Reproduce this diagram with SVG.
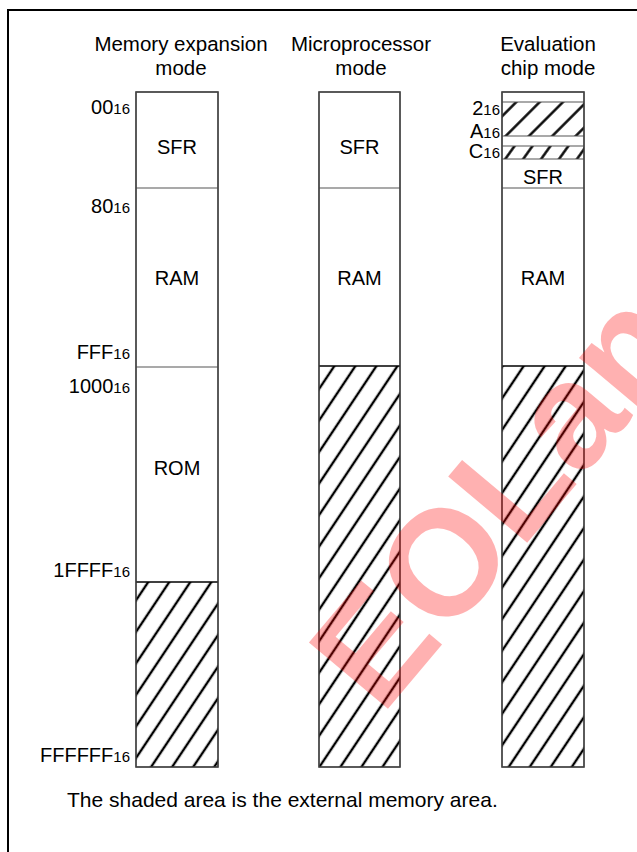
<svg xmlns="http://www.w3.org/2000/svg" width="637" height="852" viewBox="0 0 637 852">
<style>
text{font-family:"Liberation Sans",Arial,sans-serif;fill:#000}
.h{font-size:20.5px;text-anchor:middle}
.lbl{font-size:20px;text-anchor:end}
.sub{font-size:15px}
.in{font-size:20px;text-anchor:middle}
.box{fill:#fff;stroke:#444;stroke-width:1.3}
.div{stroke:#555;stroke-width:1.2}
.hl{stroke:#000;stroke-width:1.5;fill:none}
</style>
<defs>
<pattern id="hatch" patternUnits="userSpaceOnUse" width="17.5" height="20" patternTransform="rotate(33.7)">
<line x1="8.75" y1="-2" x2="8.75" y2="22" stroke="#000" stroke-width="2.4"/>
</pattern>
<pattern id="hatchA" patternUnits="userSpaceOnUse" width="16.5" height="20" patternTransform="rotate(45)">
<line x1="8.25" y1="-2" x2="8.25" y2="22" stroke="#000" stroke-width="2.4"/>
</pattern>
<pattern id="hatchB" patternUnits="userSpaceOnUse" width="14.6" height="20" patternTransform="rotate(35.5)">
<line x1="7.3" y1="-2" x2="7.3" y2="22" stroke="#000" stroke-width="2.4"/>
</pattern>
</defs>
<rect x="0" y="0" width="637" height="852" fill="#fff"/>
<rect id="frame" x="8" y="10" width="700" height="900" fill="none" stroke="#000" stroke-width="2"/>

<g id="headers">
<text class="h" x="181" y="51">Memory expansion</text>
<text class="h" x="181" y="75">mode</text>
<text class="h" x="361" y="51">Microprocessor</text>
<text class="h" x="361" y="75">mode</text>
<text class="h" x="548" y="51">Evaluation</text>
<text class="h" x="548" y="75">chip mode</text>
</g>

<g id="col1">
<rect class="box" x="136" y="92" width="82" height="675"/>
<rect x="136" y="582" width="82" height="185" fill="url(#hatch)"/>
<line class="div" x1="136" y1="188" x2="218" y2="188"/>
<line class="div" x1="136" y1="367" x2="218" y2="367"/>
<line class="hl" x1="136" y1="582" x2="218" y2="582"/>
<rect x="136" y="92" width="82" height="675" fill="none" stroke="#444" stroke-width="1.3"/>
<text class="in" x="177" y="154">SFR</text>
<text class="in" x="177" y="285">RAM</text>
<text class="in" x="177" y="475">ROM</text>
</g>

<g id="col1-labels">
<text class="lbl" x="130" y="114">00<tspan class="sub">16</tspan></text>
<text class="lbl" x="130" y="213">80<tspan class="sub">16</tspan></text>
<text class="lbl" x="130" y="359">FFF<tspan class="sub">16</tspan></text>
<text class="lbl" x="130" y="393">1000<tspan class="sub">16</tspan></text>
<text class="lbl" x="130" y="577">1FFFF<tspan class="sub">16</tspan></text>
<text class="lbl" x="130" y="762">FFFFFF<tspan class="sub">16</tspan></text>
</g>

<g id="col2">
<rect class="box" x="319" y="92" width="81" height="675"/>
<rect x="319" y="366" width="81" height="401" fill="url(#hatch)"/>
<line class="div" x1="319" y1="188" x2="400" y2="188"/>
<line class="hl" x1="319" y1="366" x2="400" y2="366"/>
<rect x="319" y="92" width="81" height="675" fill="none" stroke="#444" stroke-width="1.3"/>
<text class="in" x="359.5" y="154">SFR</text>
<text class="in" x="359.5" y="285">RAM</text>
</g>

<g id="col3">
<rect class="box" x="502" y="92" width="82" height="675"/>
<rect x="502" y="102" width="82" height="34" fill="url(#hatchA)"/>
<rect x="502" y="146" width="82" height="13" fill="url(#hatchB)"/>
<rect x="502" y="366" width="82" height="401" fill="url(#hatch)"/>
<line class="div" x1="502" y1="102" x2="584" y2="102"/>
<line class="div" x1="502" y1="136" x2="584" y2="136"/>
<line class="div" x1="502" y1="146" x2="584" y2="146"/>
<line class="div" x1="502" y1="159" x2="584" y2="159"/>
<line class="div" x1="502" y1="188" x2="584" y2="188"/>
<line class="hl" x1="502" y1="366" x2="584" y2="366"/>
<rect x="502" y="92" width="82" height="675" fill="none" stroke="#444" stroke-width="1.3"/>
<text class="in" x="543" y="184">SFR</text>
<text class="in" x="543" y="285">RAM</text>
</g>

<g id="col3-labels">
<text class="lbl" x="500" y="115">2<tspan class="sub">16</tspan></text>
<text class="lbl" x="500" y="138">A<tspan class="sub">16</tspan></text>
<text class="lbl" x="500" y="158">C<tspan class="sub">16</tspan></text>
</g>

<g id="note">
<text x="67" y="807" style="font-size:21px">The shaded area is the external memory area.</text>
</g>

<g id="watermark" opacity="0.3">
<text x="497" y="550" transform="rotate(-50 497 498)" style="font-size:150px;font-weight:bold;fill:#ff0000;text-anchor:middle">EOLan</text>
</g>
</svg>
